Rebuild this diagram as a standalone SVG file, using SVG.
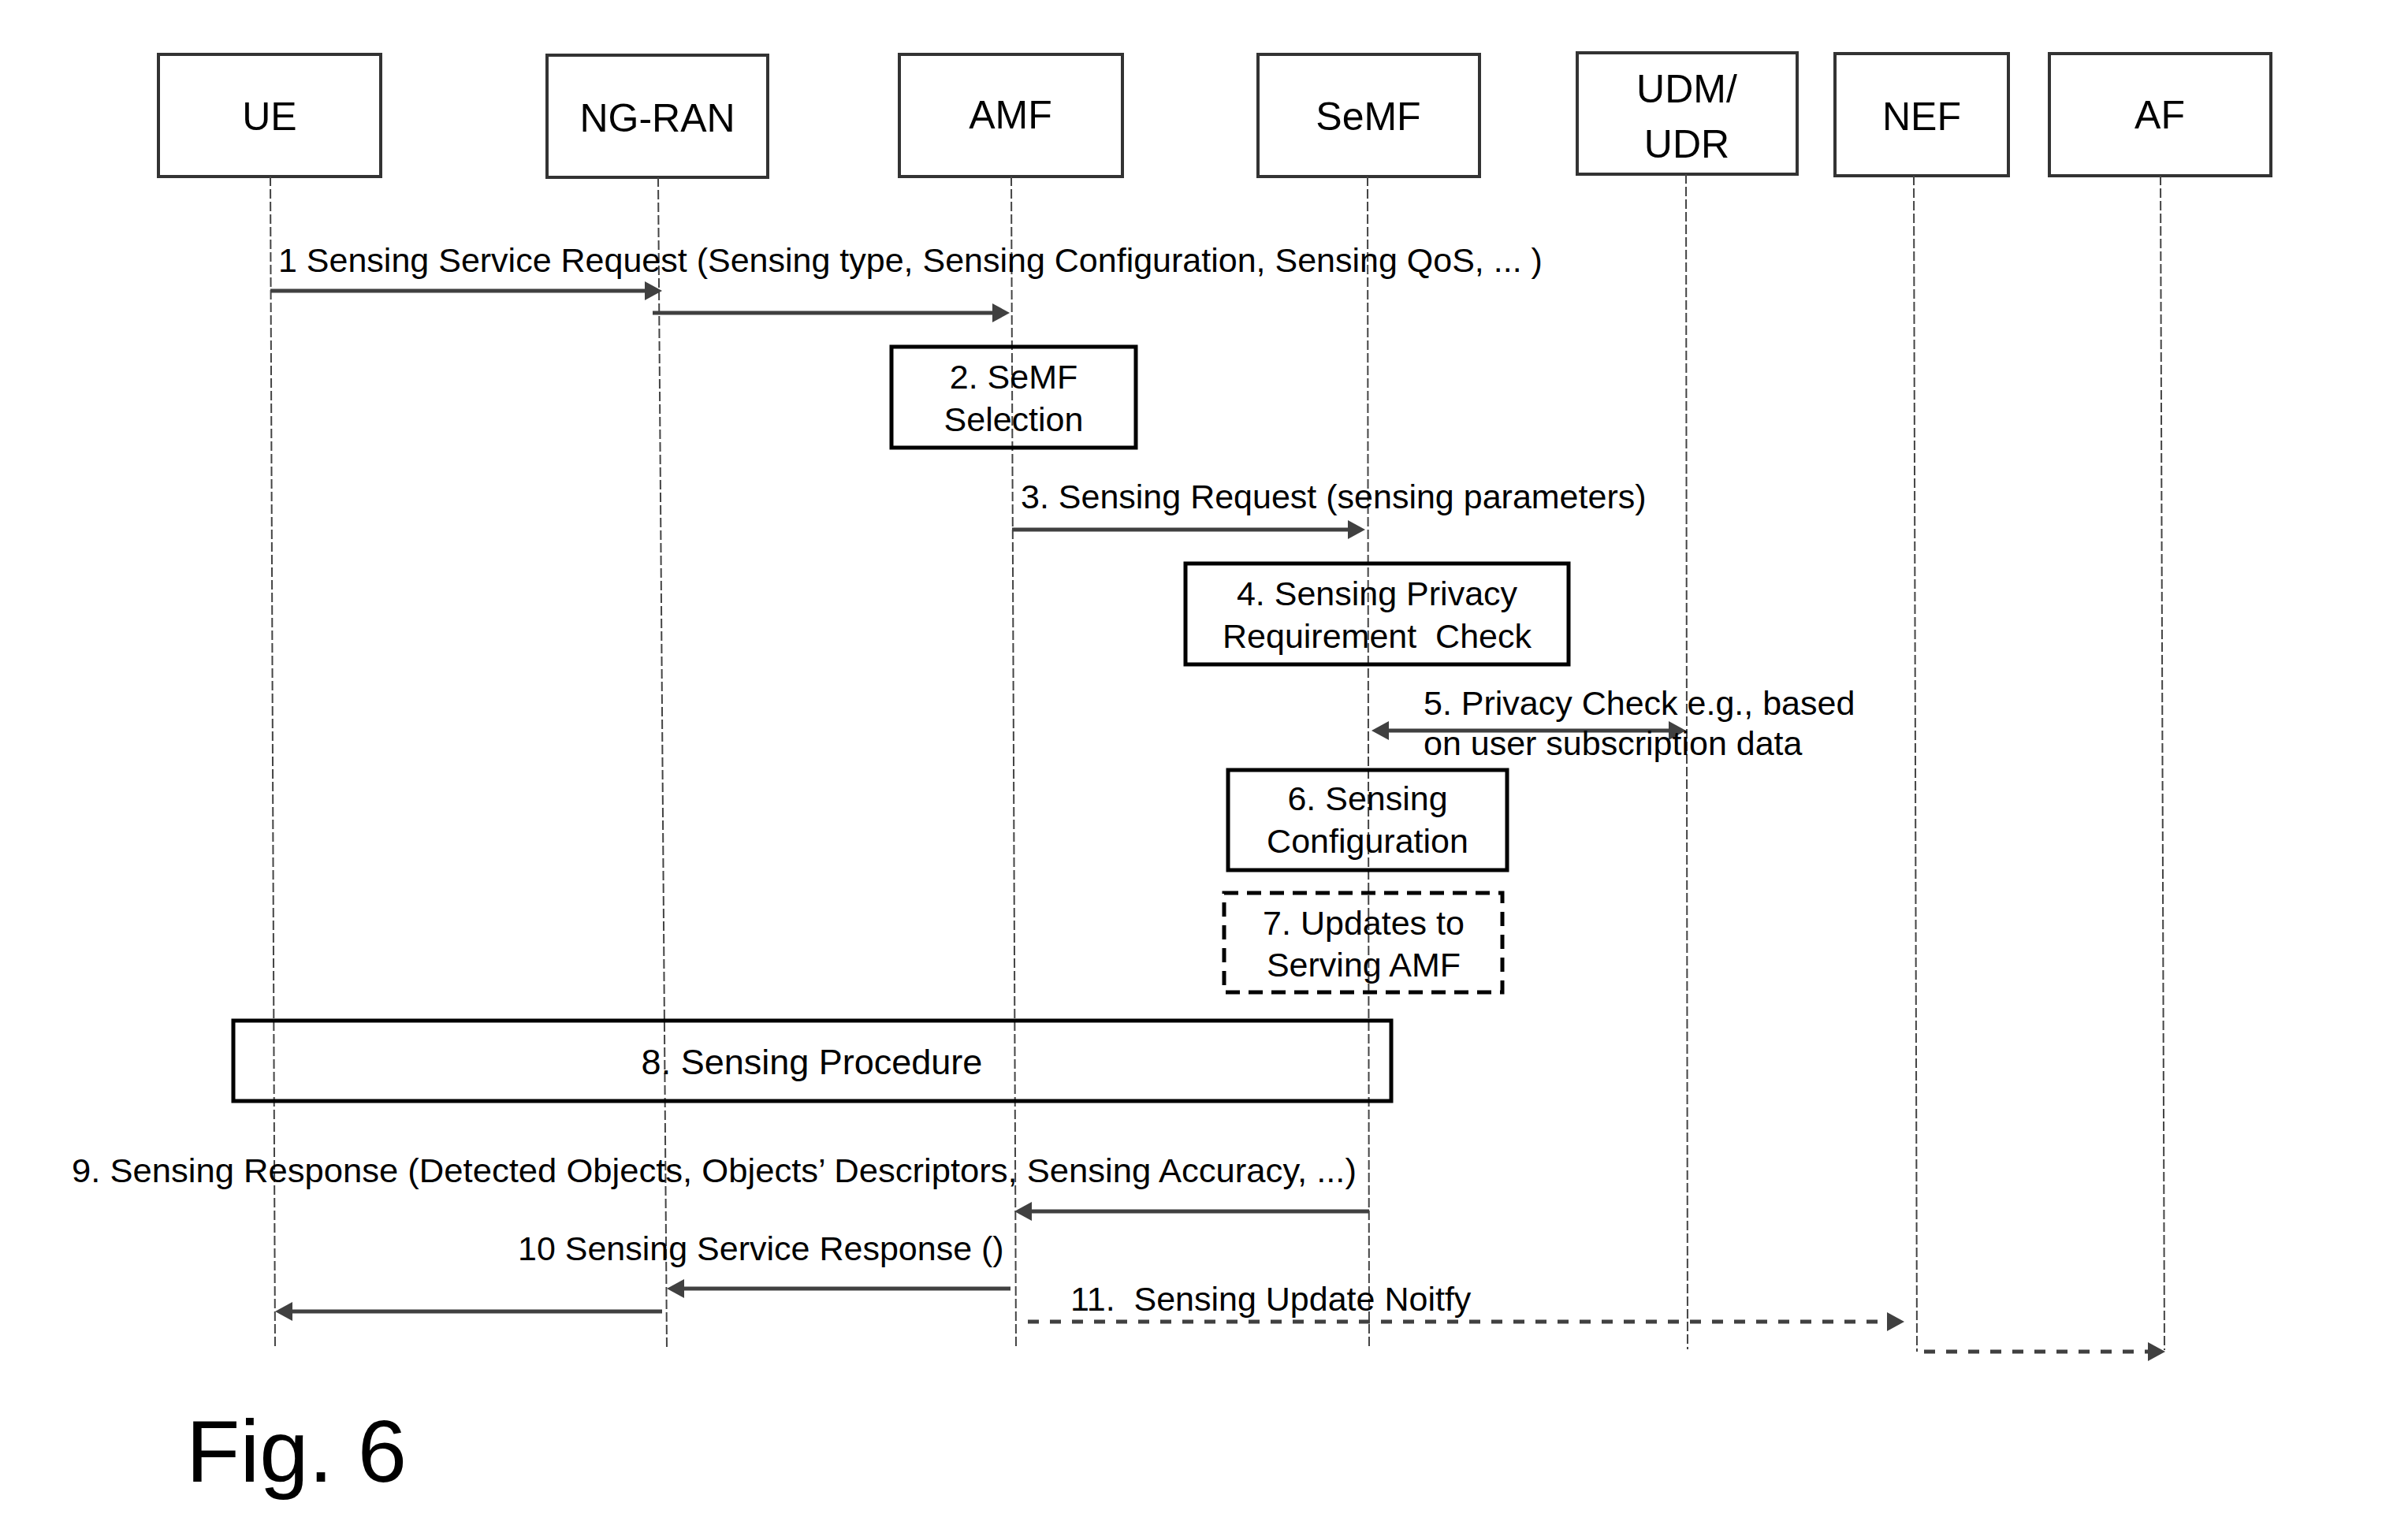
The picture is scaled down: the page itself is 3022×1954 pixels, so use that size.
<svg xmlns="http://www.w3.org/2000/svg" width="3022" height="1954" viewBox="0 0 3022 1954">
<style>
.node rect{fill:none;stroke:#333;stroke-width:4}
.node text{font-family:"Liberation Sans",Arial,sans-serif;font-size:50px;text-anchor:middle;fill:#000}
.life{stroke:#444;stroke-width:2;stroke-dasharray:12 4;fill:none}
.msg{stroke:#404040;stroke-width:5;fill:none}
.dash{stroke-dasharray:14 14}
.box{fill:none;stroke:#000;stroke-width:5}
.dbox{stroke-dasharray:18 11}
.lbl{font-family:"Liberation Sans",Arial,sans-serif;font-size:43px;fill:#000}
.mid{text-anchor:middle}
</style>
<defs>
<marker id="ah" markerUnits="userSpaceOnUse" viewBox="0 0 24 24" markerWidth="24" markerHeight="24" refX="12" refY="12" orient="auto-start-reverse">
<path d="M0,0 L22,12 L0,24 Z" fill="#404040"/>
</marker>
</defs>
<rect width="3022" height="1954" fill="#fff"/>
<g id="node-UE" class="node"><rect x="201" y="69" width="282" height="155"/><text x="342" y="165">UE</text></g>
<g id="node-NGRAN" class="node"><rect x="694" y="70" width="280" height="155"/><text x="834" y="167">NG-RAN</text></g>
<g id="node-AMF" class="node"><rect x="1141" y="69" width="283" height="155"/><text x="1282" y="163">AMF</text></g>
<g id="node-SeMF" class="node"><rect x="1596" y="69" width="281" height="155"/><text x="1736" y="165">SeMF</text></g>
<g id="node-UDM" class="node"><rect x="2001" y="67" width="279" height="154"/><text x="2140" y="130">UDM/</text><text x="2140" y="200">UDR</text></g>
<g id="node-NEF" class="node"><rect x="2328" y="68" width="220" height="155"/><text x="2438" y="165">NEF</text></g>
<g id="node-AF" class="node"><rect x="2600" y="68" width="281" height="155"/><text x="2740" y="163">AF</text></g>
<g id="lifelines">
<line class="life" x1="343" y1="224" x2="349" y2="1712"/>
<line class="life" x1="835" y1="225" x2="846" y2="1712"/>
<line class="life" x1="1283" y1="224" x2="1289" y2="1712"/>
<line class="life" x1="1735" y1="224" x2="1737" y2="1712"/>
<line class="life" x1="2139" y1="221" x2="2141" y2="1712"/>
<line class="life" x1="2428" y1="223" x2="2432" y2="1715"/>
<line class="life" x1="2741" y1="223" x2="2746" y2="1713"/>
</g>
<g id="step2"><rect class="box" x="1131" y="440" width="310" height="128"/><text class="lbl mid" x="1286" y="493">2. SeMF</text><text class="lbl mid" x="1286" y="547">Selection</text></g>
<g id="step4"><rect class="box" x="1504" y="715" width="486" height="128"/><text class="lbl mid" x="1747" y="768">4. Sensing Privacy</text><text class="lbl mid" x="1747" y="822" xml:space="preserve">Requirement  Check</text></g>
<g id="step6"><rect class="box" x="1558" y="977" width="354" height="127"/><text class="lbl mid" x="1735" y="1028">6. Sensing</text><text class="lbl mid" x="1735" y="1082">Configuration</text></g>
<g id="step7"><rect class="box dbox" x="1553" y="1133" width="353" height="126"/><text class="lbl mid" x="1730" y="1186">7. Updates to</text><text class="lbl mid" x="1730" y="1239">Serving AMF</text></g>
<g id="step8"><rect class="box" x="296" y="1295" width="1469" height="102"/><text class="lbl mid" x="1030" y="1363" style="font-size:45px">8. Sensing Procedure</text></g>
<g id="connectors">
<line class="msg" x1="343" y1="369" x2="830" y2="369" marker-end="url(#ah)"/>
<line class="msg" x1="828" y1="397" x2="1271" y2="397" marker-end="url(#ah)"/>
<line class="msg" x1="1284" y1="672" x2="1722" y2="672" marker-end="url(#ah)"/>
<line class="msg" x1="1750" y1="927" x2="2129" y2="927" marker-start="url(#ah)" marker-end="url(#ah)"/>
<line class="msg" x1="1737" y1="1537" x2="1297" y2="1537" marker-end="url(#ah)"/>
<line class="msg" x1="1282" y1="1635" x2="856" y2="1635" marker-end="url(#ah)"/>
<line class="msg" x1="840" y1="1664" x2="359" y2="1664" marker-end="url(#ah)"/>
<line class="msg dash" x1="1304" y1="1677" x2="2406" y2="1677" marker-end="url(#ah)"/>
<line class="msg dash" x1="2441" y1="1715" x2="2737" y2="1715" marker-end="url(#ah)"/>
</g>
<g id="labels">
<text class="lbl" x="353" y="345">1 Sensing Service Request (Sensing type, Sensing Configuration, Sensing QoS, ... )</text>
<text class="lbl" x="1295" y="645">3. Sensing Request (sensing parameters)</text>
<text class="lbl" x="1806" y="907">5. Privacy Check e.g., based</text>
<text class="lbl" x="1806" y="958">on user subscription data</text>
<text class="lbl" x="91" y="1500" textLength="1630" lengthAdjust="spacingAndGlyphs">9. Sensing Response (Detected Objects, Objects’ Descriptors, Sensing Accuracy, ...)</text>
<text class="lbl" x="657" y="1599">10 Sensing Service Response ()</text>
<text class="lbl" x="1358" y="1663" xml:space="preserve">11.  Sensing Update Noitfy</text>
</g>
<text id="fig" x="236" y="1880" font-family="'Liberation Sans',Arial,sans-serif" font-size="112">Fig. 6</text>
</svg>
